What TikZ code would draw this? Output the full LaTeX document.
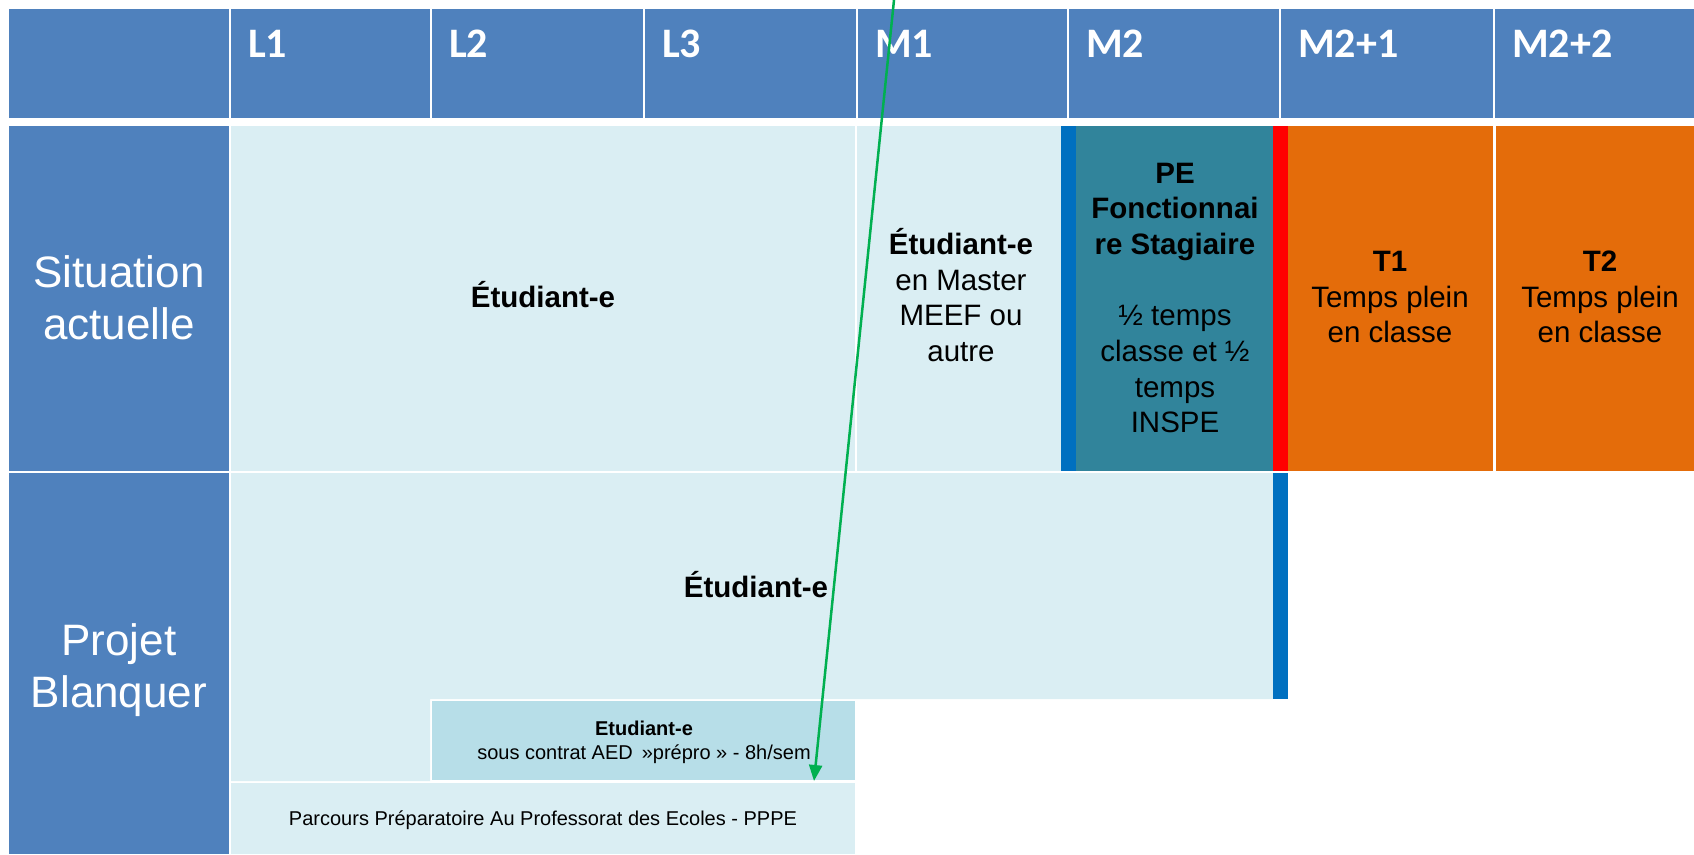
\documentclass[tikz,border=0pt]{standalone}
\usepackage{fontspec}
\setmainfont{Liberation Sans}
\newfontfamily\headfont{Carlito}
\usetikzlibrary{arrows.meta}
\definecolor{hdrblue}{HTML}{4F81BD}
\definecolor{paleblue}{HTML}{DAEEF3}
\definecolor{aedblue}{HTML}{B7DEE8}
\definecolor{pteal}{HTML}{31849B}
\definecolor{barblue}{HTML}{0070C0}
\definecolor{torange}{HTML}{E46C0A}
\definecolor{arrowgreen}{HTML}{00B050}
\tikzset{
  yearlbl/.style={anchor=base west, inner sep=0pt, text=white, font=\headfont\bfseries\fontsize{42}{50}\selectfont},
  rowlbl/.style={align=center, inner sep=0pt, text=white, font=\fontsize{44}{52}\selectfont},
  celltxt/.style={align=center, inner sep=0pt, font=\fontsize{29.5}{35.7}\selectfont},
  smalltxt/.style={align=center, inner sep=0pt, font=\fontsize{20}{24}\selectfont},
  greenarrow/.style={draw=arrowgreen, line width=2.5pt, -{Triangle[length=16pt,width=13pt]}}
}

\begin{document}
\begin{tikzpicture}[x=1pt,y=-1pt]
			%%%%% START %%%%%
			\useasboundingbox (0,0) rectangle (1694,854);
			
			% header row
			\fill[hdrblue] (9,9) rectangle (229,118);
			\foreach \xa/\xb/\lbl [count=\i] in {231/430/L1, 432/643/L2, 645/856/L3, 858/1067/M1, 1069/1279/M2, 1281/1493/M2+1, 1495/1694/M2+2}{
				\fill[hdrblue] (\xa,9) rectangle (\xb,118);
				\node[yearlbl] (year\i) at (\xa+17,57) {\lbl};
			}
			
			% situation actuelle
			\fill[hdrblue] (9,126) rectangle (229,471);
			\node[rowlbl] (actuel) at (119,298) {Situation\\actuelle};
			
			\fill[paleblue] (231,126) rectangle (855,471);
			\node[celltxt] (etudA) at (543,295) {\textbf{Étudiant-e}};
			
			\fill[paleblue] (857,126) rectangle (1061,471);
			\node[celltxt] (master) at (961,295) {\textbf{Étudiant-e}\\en Master\\MEEF ou\\autre};
			
			\fill[barblue] (1061,126) rectangle (1076,471);
			\fill[pteal] (1076,126) rectangle (1273,471);
			\node[celltxt] (stagiaire) at (1175,298) {\textbf{PE}\\\textbf{Fonctionnai}\\\textbf{re Stagiaire}\\[35.7pt]½ temps\\classe et ½\\temps\\INSPE};
			
			\fill[red] (1273,126) rectangle (1288,471);
			\fill[torange] (1288,126) rectangle (1493,471);
			\node[celltxt] (tun) at (1390,297) {\textbf{T1}\\Temps plein\\en classe};
			
			\fill[torange] (1496,126) rectangle (1694,471);
			\node[celltxt] (tdeux) at (1600,297) {\textbf{T2}\\Temps plein\\en classe};
			
			% projet blanquer
			\fill[hdrblue] (9,473) rectangle (229,854);
			\node[rowlbl] (blanquer) at (119,670) {Projet\\Blanquer};
			
			\fill[paleblue] (231,473) -- (1273,473) -- (1273,699) -- (430,699) -- (430,781) -- (231,781) -- cycle;
			\node[celltxt] (etudB) at (756,585) {\textbf{Étudiant-e}};
			\fill[barblue] (1273,473) rectangle (1288,699);
			
			\fill[aedblue] (432,701) rectangle (855,780);
			\node[smalltxt] (aed) at (644,742) {\textbf{Etudiant-e}\\sous contrat AED \,»prépro » - 8h/sem};
			
			\fill[paleblue] (231,783) rectangle (855,854);
			\node[smalltxt] (pppe) at (543,820) {Parcours Préparatoire Au Professorat des Ecoles - PPPE};
			
			% green arrow
			\coordinate (arrowtop) at (894,0);
			\coordinate (arrowtip) at (814,781);
			\draw[greenarrow] (arrowtop) -- (arrowtip);
			
			%%%%% END %%%%%
\end{tikzpicture}
\end{document}
